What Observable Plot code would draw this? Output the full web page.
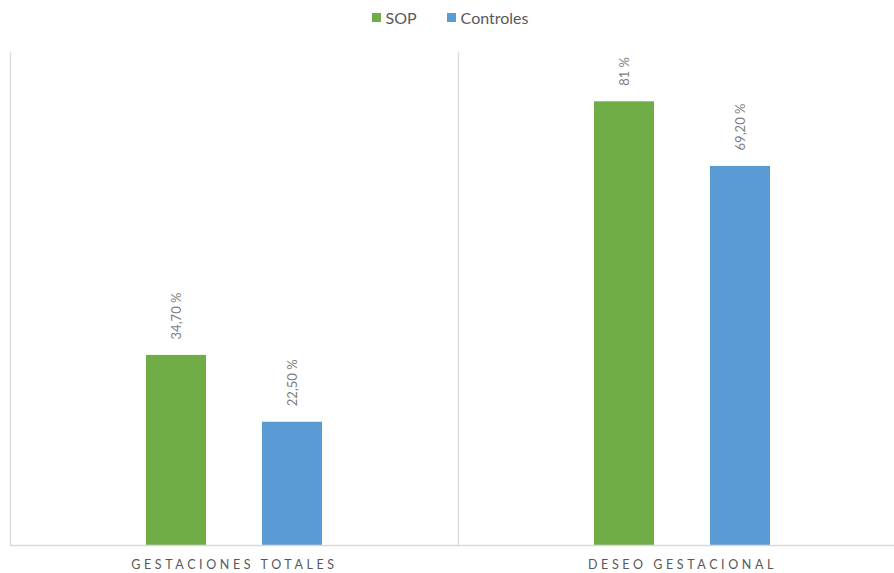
<!DOCTYPE html>
<html>
<head>
<meta charset="utf-8">
<script src="https://cdn.jsdelivr.net/npm/d3@7"></script>
<script src="https://cdn.jsdelivr.net/npm/@observablehq/plot@0.6"></script>
<style>
  html, body { margin: 0; padding: 0; background: #fff; overflow: hidden; width: 894px; height: 573px; }
  #legend { height: 35px; display: flex; justify-content: center; align-items: center; gap: 30px; font-family: Lato, "Open Sans", sans-serif; font-size: 16px; color: #595959; box-sizing: border-box; padding-left: 6px; }
  #legend .item { display: flex; align-items: center; gap: 5px; }
  #legend .sw { width: 9px; height: 9px; display: inline-block; }
  #chart svg { display: block; overflow: visible; max-width: none !important; }
  #chart [aria-label="fx-axis tick label"] text { letter-spacing: 3.6px; }
</style>
</head>
<body>
<div id="legend"></div>
<div id="chart"></div>
<script>
const categories = ["GESTACIONES TOTALES", "DESEO GESTACIONAL"];
const series = ["SOP", "Controles"];
const sopValues = [34.7, 81];
const controlValues = [22.5, 69.2];
const sopLabels = ["34,70 %", "81 %"];
const controlLabels = ["22,50 %", "69,20 %"];
const colors = ["#70AD47", "#5B9BD5"];

const rows = [];
categories.forEach((c, i) => {
  rows.push({cat: c, series: series[0], value: sopValues[i], label: sopLabels[i]});
  rows.push({cat: c, series: series[1], value: controlValues[i], label: controlLabels[i]});
});

const legend = document.getElementById("legend");
series.forEach((s, i) => {
  const it = document.createElement("span");
  it.className = "item";
  const sw = document.createElement("span");
  sw.className = "sw";
  sw.style.background = colors[i];
  const t = document.createElement("span");
  t.textContent = s;
  it.appendChild(sw); it.appendChild(t);
  legend.appendChild(it);
});

const chart = Plot.plot({
  width: 906,
  height: 538,
  marginTop: 17,
  marginBottom: 28,
  marginLeft: 9,
  marginRight: 0,
  style: {fontFamily: "Lato, 'Open Sans', sans-serif", background: "transparent", maxWidth: "none"},
  fx: {domain: categories, padding: 0, label: null},
  x: {domain: series, paddingInner: 0.479, paddingOuter: 1.156, axis: null},
  y: {domain: [0, 90], axis: null},
  color: {domain: series, range: colors},
  marks: [
    Plot.frame({anchor: "left", stroke: "#d9d9d9", strokeWidth: 1.3}),
    Plot.barY(rows, {fx: "cat", x: "series", y: "value", fill: "series"}),
    Plot.ruleY([0], {stroke: "#d9d9d9", strokeWidth: 1.5}),
    Plot.text(rows, {fx: "cat", x: "series", y: "value", text: "label", rotate: -90, textAnchor: "start", dy: -16, fill: "#808080", fontSize: 13}),
    Plot.axisFx({anchor: "bottom", tickSize: 0, tickPadding: 15, fontSize: 12.5, label: null, fill: "#595959"})
  ]
});
document.getElementById("chart").appendChild(chart);
</script>
</body>
</html>
